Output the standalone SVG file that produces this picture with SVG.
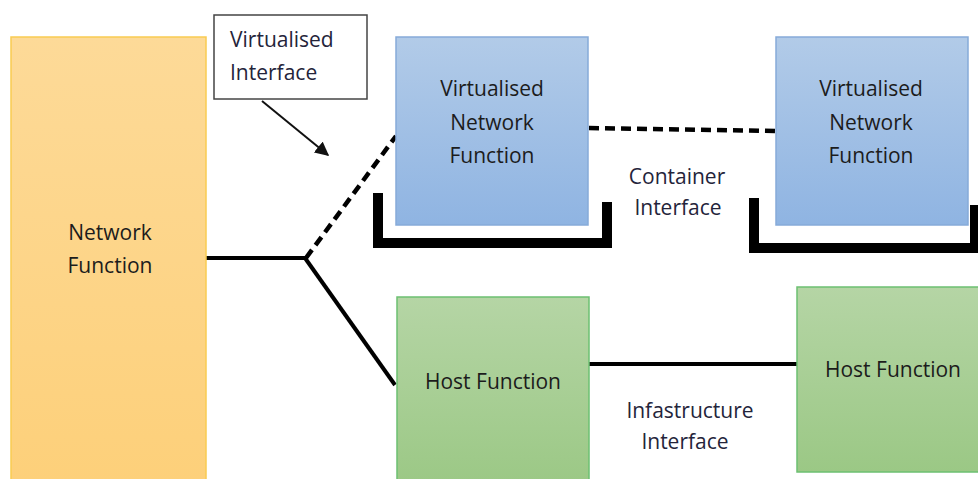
<svg xmlns="http://www.w3.org/2000/svg" width="978" height="479" viewBox="0 0 978 479">
  <defs>
    <linearGradient id="gOrange" x1="0" y1="0" x2="0" y2="1">
      <stop offset="0" stop-color="#fdda98"/>
      <stop offset="1" stop-color="#fdd07a"/>
    </linearGradient>
    <linearGradient id="gBlue" x1="0" y1="0" x2="0" y2="1">
      <stop offset="0" stop-color="#b2cbe8"/>
      <stop offset="1" stop-color="#8fb4e2"/>
    </linearGradient>
    <linearGradient id="gGreen" x1="0" y1="0" x2="0" y2="1">
      <stop offset="0" stop-color="#b5d5a5"/>
      <stop offset="1" stop-color="#9bc885"/>
    </linearGradient>
    <marker id="arrowHead" viewBox="0 0 10 10" refX="9" refY="5" markerWidth="7" markerHeight="7" markerUnits="strokeWidth" orient="auto">
      <path d="M0,0 L10,5 L0,10 z" fill="#111"/>
    </marker>
    <style>
      .lbl { font-family: "Open Sans", "Noto Sans", "Liberation Sans", sans-serif; font-size: 21px; fill: #1c1c1c; text-anchor: middle; }
      .note { fill: #24243a; }
      .left { text-anchor: start; }
      .nf { fill: url(#gOrange); stroke: #f9cb52; stroke-width: 1.5; }
      .vnf { fill: url(#gBlue); stroke: #86abd9; stroke-width: 1.5; }
      .host { fill: url(#gGreen); stroke: #6cc072; stroke-width: 1.5; }
      .solid { fill: none; stroke: #000; stroke-width: 4; }
      .dash { fill: none; stroke: #000; stroke-width: 4.5; stroke-dasharray: 10 6; }
      .bracket { fill: none; stroke: #000; stroke-width: 10; stroke-linejoin: miter; }
    </style>
  </defs>

  <rect width="978" height="479" fill="#ffffff"/>

  <!-- connectors -->
  <g id="connectors">
    <line class="solid" x1="202" y1="258" x2="306" y2="258" stroke-width="5"/>
    <line class="dash" x1="306" y1="258" x2="396" y2="136"/>
    <line class="solid" x1="305" y1="258" x2="395" y2="385"/>
    <line class="dash" x1="589" y1="128" x2="778" y2="131"/>
    <line class="solid" x1="589" y1="364" x2="797" y2="364"/>
    <path class="bracket" d="M378,193 V243 H607 V202"/>
    <path class="bracket" d="M754,198 V248 H975 V205"/>
    <line x1="262" y1="101" x2="328" y2="155" stroke="#111" stroke-width="2" marker-end="url(#arrowHead)"/>
  </g>

  <!-- network function -->
  <g id="network-function">
    <rect class="nf" x="11" y="37" width="195" height="445"/>
    <text class="lbl" x="110" y="240">Network</text>
    <text class="lbl" x="110" y="273">Function</text>
  </g>

  <!-- callout -->
  <g id="virtualised-interface-note">
    <rect x="214" y="15" width="153" height="84" fill="#ffffff" stroke="#444" stroke-width="1.5"/>
    <text class="lbl note left" x="230" y="47">Virtualised</text>
    <text class="lbl note left" x="230" y="80">Interface</text>
  </g>

  <!-- virtualised network functions -->
  <g id="vnf-1">
    <rect class="vnf" x="396" y="37" width="192" height="188"/>
    <text class="lbl" x="492" y="96">Virtualised</text>
    <text class="lbl" x="492" y="130">Network</text>
    <text class="lbl" x="492" y="163">Function</text>
  </g>
  <g id="vnf-2">
    <rect class="vnf" x="776" y="37" width="192" height="188"/>
    <text class="lbl" x="871" y="96">Virtualised</text>
    <text class="lbl" x="871" y="130">Network</text>
    <text class="lbl" x="871" y="163">Function</text>
  </g>

  <!-- interface labels -->
  <g id="container-interface-label">
    <text class="lbl note" x="677" y="184">Container</text>
    <text class="lbl note" x="678" y="215">Interface</text>
  </g>
  <g id="infrastructure-interface-label">
    <text class="lbl note" x="690" y="418">Infastructure</text>
    <text class="lbl note" x="685" y="449">Interface</text>
  </g>

  <!-- host functions -->
  <g id="host-1">
    <rect class="host" x="397" y="297" width="192" height="190"/>
    <text class="lbl" x="493" y="389">Host Function</text>
  </g>
  <g id="host-2">
    <rect class="host" x="797" y="287" width="190" height="185"/>
    <text class="lbl" x="893" y="377">Host Function</text>
  </g>
</svg>
